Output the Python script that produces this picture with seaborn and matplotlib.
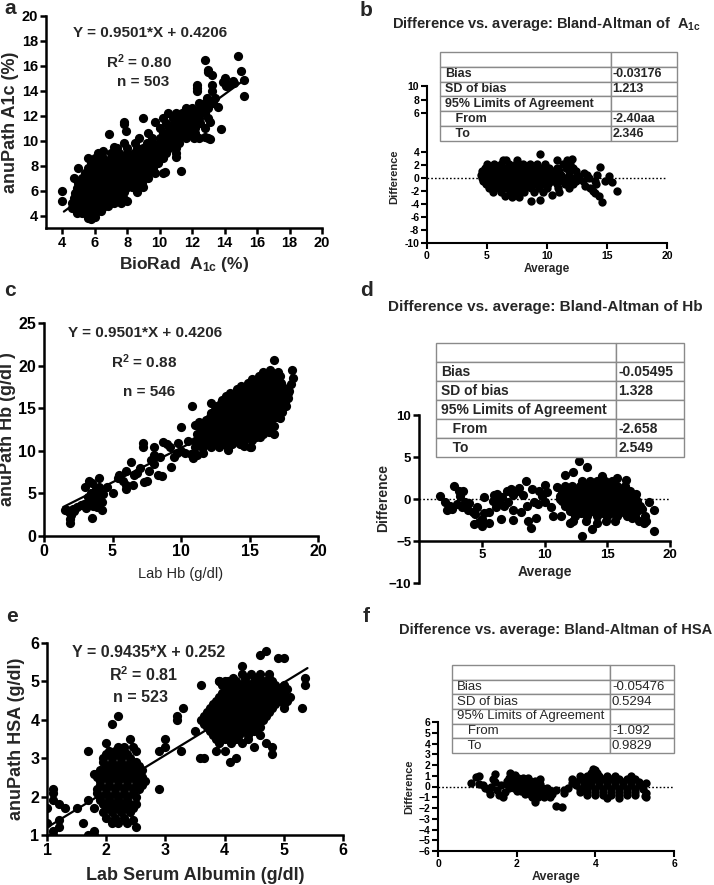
import matplotlib
matplotlib.use('Agg')
import matplotlib.pyplot as plt
import seaborn as sns
import pandas as pd

# ---------------- data ----------------
# (a) anuPath vs BioRad A1c
a_pts = [
    (4.0, 6.0), (4.0, 5.2), (4.7, 7.0), (5.0, 7.8),
    (5.6, 3.8), (5.8, 3.7), (6.0, 3.9),
    (4.9, 4.2), (5.2, 4.2), (5.5, 4.1), (5.8, 4.2), (6.1, 4.3), (6.4, 4.4),
    (4.6, 4.6), (5.0, 4.6), (5.3, 4.6), (5.6, 4.6), (5.9, 4.6), (6.2, 4.7), (6.5, 4.7), (6.8, 4.8),
    (4.6, 5.0), (4.9, 5.0), (5.2, 5.0), (5.5, 5.0), (5.8, 5.0), (6.1, 5.0), (6.4, 5.0), (6.7, 5.1), (7.0, 5.1), (7.6, 5.0),
    (4.7, 5.4), (5.0, 5.4), (5.3, 5.4), (5.6, 5.4), (5.9, 5.4), (6.2, 5.4), (6.5, 5.4), (6.8, 5.4), (7.1, 5.4), (7.4, 5.5), (7.8, 5.3),
    (4.8, 5.8), (5.1, 5.8), (5.4, 5.8), (5.7, 5.8), (6.0, 5.8), (6.3, 5.8), (6.6, 5.8), (6.9, 5.8), (7.2, 5.8), (7.5, 5.8), (7.8, 5.9),
    (4.9, 6.2), (5.2, 6.2), (5.5, 6.2), (5.8, 6.2), (6.1, 6.2), (6.4, 6.2), (6.7, 6.2), (7.0, 6.2), (7.3, 6.2), (7.6, 6.2), (7.9, 6.2), (8.3, 6.3),
    (5.0, 6.6), (5.3, 6.6), (5.6, 6.6), (5.9, 6.6), (6.2, 6.6), (6.5, 6.6), (6.8, 6.6), (7.1, 6.6), (7.4, 6.6), (7.7, 6.6), (8.0, 6.6), (8.4, 6.6), (8.9, 6.6),
    (5.2, 7.0), (5.5, 7.0), (5.8, 7.0), (6.1, 7.0), (6.4, 7.0), (6.7, 7.0), (7.0, 7.0), (7.3, 7.0), (7.6, 7.0), (7.9, 7.0), (8.2, 7.0), (8.6, 7.0), (9.0, 7.0),
    (5.4, 7.4), (5.7, 7.4), (6.0, 7.4), (6.3, 7.4), (6.6, 7.4), (6.9, 7.4), (7.2, 7.4), (7.5, 7.4), (7.8, 7.4), (8.1, 7.4), (8.5, 7.4), (8.9, 7.4), (9.3, 7.4), (9.7, 7.4),
    (5.6, 7.8), (5.9, 7.8), (6.2, 7.8), (6.5, 7.8), (6.8, 7.8), (7.1, 7.8), (7.4, 7.8), (7.7, 7.8), (8.0, 7.8), (8.4, 7.8), (8.8, 7.8), (9.2, 7.8), (9.6, 7.8),
    (5.8, 8.2), (6.1, 8.2), (6.4, 8.2), (6.8, 8.2), (7.2, 8.2), (7.6, 8.2), (8.0, 8.2), (8.3, 8.2), (8.7, 8.2), (9.1, 8.2), (9.5, 8.2), (9.9, 8.2),
    (5.6, 8.6), (6.0, 8.6), (6.5, 8.6), (7.0, 8.6), (7.4, 8.6), (7.8, 8.6), (8.2, 8.6), (8.6, 8.6), (9.0, 8.6), (9.4, 8.6), (9.8, 8.6), (10.2, 8.6),
    (6.2, 9.0), (7.0, 9.0), (7.5, 9.0), (8.0, 9.0), (8.4, 9.0), (8.8, 9.0), (9.2, 9.0), (9.6, 9.0), (10.0, 9.0), (10.4, 9.0),
    (7.4, 9.4), (8.0, 9.4), (8.6, 9.4), (9.0, 9.4), (9.4, 9.4), (9.8, 9.4), (10.2, 9.4), (10.6, 9.4), (11.0, 9.4),
    (7.8, 9.8), (8.5, 9.8), (9.2, 9.8), (9.6, 9.8), (10.0, 9.8), (10.4, 9.8), (10.8, 9.8), (11.2, 9.8),
    (8.7, 10.2), (9.5, 10.2), (10.0, 10.2), (10.4, 10.2), (10.8, 10.2), (11.2, 10.2), (11.6, 10.2), (12.1, 10.2), (12.4, 10.2),
    (9.3, 10.6), (10.2, 10.6), (10.6, 10.6), (11.0, 10.6), (11.4, 10.6), (11.8, 10.6), (12.2, 10.6),
    (10.0, 11.0), (10.6, 11.0), (11.0, 11.0), (11.4, 11.0), (11.8, 11.0), (12.2, 11.0), (12.8, 11.0),
    (10.4, 11.4), (10.9, 11.4), (11.3, 11.4), (11.7, 11.4), (12.1, 11.4), (12.5, 11.4), (13.1, 11.5),
    (9.0, 11.8), (10.2, 11.8), (10.8, 11.8), (11.2, 11.8), (11.6, 11.8), (12.0, 11.8), (12.4, 11.8), (13.0, 11.8),
    (10.5, 12.2), (11.0, 12.2), (11.4, 12.2), (11.8, 12.2), (12.3, 12.2), (12.8, 12.2),
    (11.6, 12.6), (12.0, 12.6), (12.5, 12.6), (13.0, 12.6), (13.6, 12.7),
    (12.4, 13.0), (12.8, 13.0), (13.3, 13.0), (12.9, 13.4), (13.4, 13.4),
    (6.9, 10.5), (7.8, 11.3), (7.8, 11.5), (7.9, 10.8), (9.7, 11.5), (7.2, 9.5), (6.5, 9.2),
    (10.2, 7.4), (10.3, 7.5), (11.0, 9.0), (11.0, 8.7), (11.3, 7.6),
    (12.3, 14.5), (12.3, 14.2), (12.3, 14.0), (12.8, 16.5), (13.0, 15.7), (13.0, 15.5),
    (13.2, 15.3), (13.2, 14.5), (13.2, 14.0), (12.8, 10.3), (13.1, 10.1), (13.0, 10.2),
    (13.8, 10.9), (14.0, 15.0), (13.9, 14.7), (14.1, 14.4), (14.3, 14.5), (14.5, 14.8),
    (14.6, 14.6), (14.8, 16.8), (15.0, 15.6), (15.2, 14.9), (15.2, 13.6),
    (7.2, 5.0), (8.0, 5.2), (8.6, 5.9), (8.8, 6.4), (9.0, 6.3), (9.3, 7.0), (8.9, 8.0),
]
a_slope, a_icpt = 0.9501, 0.4206
a_fit_x = [4.1, 15.1]

# (b) Bland-Altman A1c: average, difference
b_pts = [
    (6.3, 2.8), (6.6, 2.8), (7.5, 2.8), (10.8, 2.8), (11.7, 2.8), (12.1, 2.9), (9.4, 3.7),
    (5.0, 2.2), (5.6, 2.2), (6.2, 2.2), (6.8, 2.2), (7.4, 2.2), (8.0, 2.2), (8.6, 2.2), (9.2, 2.2), (9.8, 2.2), (11.3, 2.2), (11.9, 2.2),
    (4.8, 1.6), (5.2, 1.6), (5.6, 1.6), (6.0, 1.6), (6.4, 1.6), (6.8, 1.6), (7.2, 1.6), (7.6, 1.6), (8.0, 1.6), (8.4, 1.6), (8.8, 1.6), (9.6, 1.6), (10.2, 1.6), (10.8, 1.6), (11.6, 1.6), (12.2, 1.6), (14.4, 1.7),
    (4.6, 1.0), (5.0, 1.0), (5.4, 1.0), (5.8, 1.0), (6.2, 1.0), (6.6, 1.0), (7.0, 1.0), (7.4, 1.0), (7.8, 1.0), (8.2, 1.0), (8.6, 1.0), (9.0, 1.0), (9.4, 1.0), (9.8, 1.0), (10.4, 1.0), (11.0, 1.0), (11.8, 1.0), (12.4, 1.0), (13.1, 0.8),
    (4.5, 0.5), (4.9, 0.5), (5.3, 0.5), (5.7, 0.5), (6.1, 0.5), (6.5, 0.5), (6.9, 0.5), (7.3, 0.5), (7.7, 0.5), (8.1, 0.5), (8.5, 0.5), (9.0, 0.5), (9.5, 0.5), (10.0, 0.5), (10.6, 0.5), (11.2, 0.5), (11.8, 0.5), (12.5, 0.5), (13.3, 0.5), (14.2, 0.4), (15.2, 0.3),
    (4.6, 0.0), (5.0, 0.0), (5.4, 0.0), (5.8, 0.0), (6.2, 0.0), (6.6, 0.0), (7.0, 0.0), (7.4, 0.0), (7.8, 0.0), (8.2, 0.0), (8.6, 0.0), (9.1, 0.0), (9.6, 0.0), (10.2, 0.0), (10.8, 0.0), (11.4, 0.0), (12.0, 0.0), (12.7, 0.0), (13.5, 0.0),
    (4.7, -0.5), (5.1, -0.5), (5.5, -0.5), (5.9, -0.5), (6.3, -0.5), (6.7, -0.5), (7.1, -0.5), (7.5, -0.5), (7.9, -0.5), (8.3, -0.5), (8.8, -0.5), (9.3, -0.5), (9.8, -0.5), (10.4, -0.5), (11.0, -0.5), (11.7, -0.5), (12.4, -0.5), (13.0, -0.5), (14.0, -0.4), (14.8, -0.5),
    (4.9, -1.0), (5.3, -1.0), (5.7, -1.0), (6.1, -1.0), (6.5, -1.0), (6.9, -1.0), (7.3, -1.0), (7.7, -1.0), (8.1, -1.0), (8.5, -1.0), (9.0, -1.0), (9.5, -1.0), (10.1, -1.0), (10.8, -1.0), (11.5, -1.0), (12.2, -1.0), (13.2, -1.2), (14.1, -1.0), (15.4, -0.6),
    (5.2, -1.6), (5.7, -1.6), (6.2, -1.6), (6.7, -1.6), (7.2, -1.6), (7.7, -1.6), (8.2, -1.6), (8.7, -1.6), (9.3, -1.6), (10.0, -1.6), (10.9, -1.6), (11.8, -1.6), (13.6, -1.6),
    (5.5, -2.2), (6.2, -2.2), (6.9, -2.2), (7.5, -2.2), (8.1, -2.2), (8.9, -2.2), (9.7, -2.2), (11.0, -2.2), (13.8, -2.0), (14.0, -2.3),
    (6.5, -2.8), (7.1, -2.9), (7.7, -2.9), (10.4, -2.6), (14.3, -2.8),
    (8.7, -3.5), (9.4, -3.4), (14.6, -3.7), (15.8, -2.0),
]

# (c) anuPath Hb vs Lab Hb
c_pts = [
    (1.5, 3.0), (1.8, 2.8), (1.9, 1.5), (1.9, 2.0), (2.0, 2.5), (2.1, 3.2), (2.4, 3.4), (2.2, 2.9), (1.7, 3.1),
    (3.0, 5.8), (3.3, 6.5), (3.5, 6.2), (3.4, 5.0), (3.5, 4.5), (3.6, 4.0), (3.6, 3.5), (3.5, 2.1), (3.8, 5.5),
    (4.0, 6.8), (3.9, 4.2), (4.2, 3.0), (4.2, 4.0), (4.0, 5.8), (3.2, 3.9), (2.9, 3.7), (3.2, 4.6), (3.7, 4.8),
    (3.1, 3.3), (3.9, 3.4), (4.3, 4.9), (4.1, 5.2), (2.7, 3.6), (3.4, 4.3),
    (5.0, 5.1), (5.5, 7.2), (5.4, 6.8), (6.0, 7.6), (6.0, 6.0), (6.0, 5.5), (6.35, 8.7), (6.5, 6.0), (7.0, 8.0),
    (7.2, 10.5), (7.2, 10.9), (7.3, 6.3), (7.5, 6.5), (7.7, 7.6), (8.0, 9.5), (8.05, 10.4), (8.0, 8.5), (8.3, 7.2),
    (8.6, 7.0), (8.7, 11.05), (9.0, 10.8), (9.3, 8.1), (9.5, 9.3), (10.0, 12.8), (10.0, 10.0), (10.3, 9.8),
    (10.8, 15.2), (6.8, 7.4), (7.8, 8.9), (8.5, 9.3), (9.2, 10.5), (9.7, 9.8), (4.6, 5.7), (5.8, 6.4), (6.6, 7.2),
    (9.8, 10.9), (10.5, 11.2), (10.7, 9.6),
    (11.0, 10.4), (11.6, 10.4), (12.2, 10.4), (12.8, 10.4), (13.4, 10.4), (14.6, 10.6), (15.1, 10.5),
    (11.3, 10.8), (11.9, 10.8), (12.5, 10.8), (13.1, 10.8), (13.7, 10.8), (14.3, 10.8),
    (11.0, 11.2), (11.6, 11.2), (12.2, 11.2), (12.8, 11.2), (13.4, 11.2), (14.0, 11.2), (14.6, 11.2), (15.2, 11.3), (15.8, 11.6),
    (11.3, 11.6), (11.9, 11.6), (12.5, 11.6), (13.1, 11.6), (13.7, 11.6), (14.3, 11.6), (14.9, 11.6), (15.5, 11.6),
    (11.2, 12.0), (11.8, 12.0), (12.4, 12.0), (13.0, 12.0), (13.6, 12.0), (14.2, 12.0), (14.8, 12.0), (15.4, 12.0), (16.0, 12.0), (16.4, 12.2),
    (11.5, 12.4), (12.1, 12.4), (12.7, 12.4), (13.3, 12.4), (13.9, 12.4), (14.5, 12.4), (15.1, 12.4), (15.7, 12.4), (16.3, 12.4),
    (11.4, 12.8), (12.0, 12.8), (12.6, 12.8), (13.2, 12.8), (13.8, 12.8), (14.4, 12.8), (15.0, 12.8), (15.6, 12.8), (16.2, 12.8), (16.8, 12.9),
    (11.7, 13.2), (12.3, 13.2), (12.9, 13.2), (13.5, 13.2), (14.1, 13.2), (14.7, 13.2), (15.3, 13.2), (15.9, 13.2), (16.5, 13.2),
    (11.8, 13.6), (12.4, 13.6), (13.0, 13.6), (13.6, 13.6), (14.2, 13.6), (14.8, 13.6), (15.4, 13.6), (16.0, 13.6), (16.6, 13.6), (17.2, 13.8),
    (12.1, 14.0), (12.7, 14.0), (13.3, 14.0), (13.9, 14.0), (14.5, 14.0), (15.1, 14.0), (15.7, 14.0), (16.3, 14.0), (16.9, 14.0),
    (12.2, 14.4), (12.8, 14.4), (13.4, 14.4), (14.0, 14.4), (14.6, 14.4), (15.2, 14.4), (15.8, 14.4), (16.4, 14.4), (17.0, 14.4), (17.4, 14.6),
    (12.5, 14.8), (13.1, 14.8), (13.7, 14.8), (14.3, 14.8), (14.9, 14.8), (15.5, 14.8), (16.1, 14.8), (16.7, 14.8), (17.3, 14.8),
    (12.6, 15.2), (13.2, 15.2), (13.8, 15.2), (14.4, 15.2), (15.0, 15.2), (15.6, 15.2), (16.2, 15.2), (16.8, 15.2), (17.4, 15.3),
    (12.9, 15.6), (13.5, 15.6), (14.1, 15.6), (14.7, 15.6), (15.3, 15.6), (15.9, 15.6), (16.5, 15.6), (17.1, 15.6), (17.6, 15.6),
    (13.0, 16.0), (13.6, 16.0), (14.2, 16.0), (14.8, 16.0), (15.4, 16.0), (16.0, 16.0), (16.6, 16.0), (17.2, 16.0), (17.8, 16.2),
    (13.3, 16.4), (13.9, 16.4), (14.5, 16.4), (15.1, 16.4), (15.7, 16.4), (16.3, 16.4), (16.9, 16.4), (17.5, 16.4),
    (13.6, 16.8), (14.2, 16.8), (14.8, 16.8), (15.4, 16.8), (16.0, 16.8), (16.6, 16.8), (17.2, 16.8), (17.8, 16.8),
    (14.1, 17.2), (14.7, 17.2), (15.3, 17.2), (15.9, 17.2), (16.5, 17.2), (17.1, 17.2), (17.7, 17.2),
    (14.4, 17.6), (15.0, 17.6), (15.6, 17.6), (16.2, 17.6), (16.8, 17.6), (17.4, 17.6),
    (14.9, 18.0), (15.5, 18.0), (16.1, 18.0), (16.7, 18.0), (17.3, 18.0),
    (15.2, 18.4), (15.8, 18.4), (16.4, 18.4), (17.0, 18.4), (15.7, 18.8), (16.3, 18.8), (16.9, 18.8),
    (16.0, 19.2), (16.6, 19.2), (17.1, 19.2),
    (12.2, 15.6), (13.4, 10.1), (15.05, 10.5), (16.8, 20.6), (18.1, 19.45), (18.2, 18.5), (17.7, 15.2),
    (17.0, 17.9), (17.9, 17.0), (16.5, 19.5), (17.2, 18.8), (18.0, 17.8), (11.0, 13.0), (11.2, 9.5),
    (11.5, 10.5), (10.9, 9.2), (11.6, 9.8), (11.3, 13.4), (12.5, 14.8), (16.8, 12.0), (14.2, 11.0),
]
c_fit_x = [1.4, 18.0]
c_fit_y = [3.4, 16.8]

# (d) Bland-Altman Hb
d_pts = [
    (1.7, 0.3), (2.1, -0.3), (2.5, -0.8), (2.2, -1.3), (2.8, 1.5), (3.2, 1.0), (3.5, 0.9), (3.3, 0.4),
    (3.7, -0.4), (4.0, -0.5), (4.3, -1.5), (4.5, -1.8), (4.4, -3.0), (4.8, -2.7), (5.0, -3.2), (5.2, -1.7),
    (5.0, -2.4), (5.6, -2.8), (5.6, -1.5), (5.2, 0.2), (6.0, 0.5), (6.2, 0.6), (6.4, -0.3), (6.5, -2.4),
    (6.8, -0.8), (7.0, 1.0), (7.3, 1.2), (7.5, 0.5), (7.5, -1.3), (7.5, -2.5), (8.0, 1.3), (8.3, 0.5),
    (8.5, 2.1), (8.6, -0.8), (8.7, -2.6), (8.9, -3.4), (9.0, 1.2), (9.2, -0.4), (9.3, -2.3), (9.8, 0.3),
    (10.05, 1.7), (10.2, 0.8), (10.5, -1.0), (10.7, -2.0), (11.0, 1.4), (11.2, 0.0), (11.6, 2.9),
    (3.0, -0.6), (3.9, -1.3), (4.6, -1.0), (5.9, -0.2), (6.6, 0.2), (7.8, 0.9), (8.1, -1.6), (9.5, -0.6),
    (10.0, -0.3), (2.6, -1.2), (3.4, -0.9), (6.1, -1.0), (7.1, -0.4), (9.6, 0.9),
    (13.0, 2.2), (13.6, 2.2), (14.2, 2.2), (14.8, 2.2), (15.4, 2.2),
    (11.6, 1.6), (12.2, 1.6), (12.8, 1.6), (13.4, 1.6), (14.0, 1.6), (14.6, 1.6), (15.2, 1.6), (15.8, 1.6), (16.4, 1.6),
    (12.3, 1.3), (12.9, 1.3), (13.5, 1.3), (14.1, 1.3), (14.7, 1.3), (15.3, 1.3), (15.9, 1.3),
    (11.4, 1.0), (12.0, 1.0), (12.6, 1.0), (13.2, 1.0), (13.8, 1.0), (14.4, 1.0), (15.0, 1.0), (15.6, 1.0), (16.2, 1.0), (16.8, 1.0),
    (11.7, 0.7), (12.3, 0.7), (12.9, 0.7), (13.5, 0.7), (14.1, 0.7), (14.7, 0.7), (15.3, 0.7), (15.9, 0.7), (16.5, 0.7),
    (11.2, 0.4), (11.8, 0.4), (12.4, 0.4), (13.0, 0.4), (13.6, 0.4), (14.2, 0.4), (14.8, 0.4), (15.4, 0.4), (16.0, 0.4), (16.6, 0.4), (17.2, 0.4),
    (11.7, 0.1), (12.3, 0.1), (12.9, 0.1), (13.5, 0.1), (14.1, 0.1), (14.7, 0.1), (15.3, 0.1), (15.9, 0.1), (16.5, 0.1), (17.1, 0.1),
    (11.4, -0.2), (12.0, -0.2), (12.6, -0.2), (13.2, -0.2), (13.8, -0.2), (14.4, -0.2), (15.0, -0.2), (15.6, -0.2), (16.2, -0.2), (16.8, -0.2), (17.4, -0.2),
    (11.7, -0.5), (12.3, -0.5), (12.9, -0.5), (13.5, -0.5), (14.1, -0.5), (14.7, -0.5), (15.3, -0.5), (15.9, -0.5), (16.5, -0.5), (17.1, -0.5),
    (11.6, -0.8), (12.2, -0.8), (12.8, -0.8), (13.4, -0.8), (14.0, -0.8), (14.6, -0.8), (15.2, -0.8), (15.8, -0.8), (16.4, -0.8), (17.0, -0.8), (17.6, -0.8),
    (12.3, -1.1), (12.9, -1.1), (13.5, -1.1), (14.1, -1.1), (14.7, -1.1), (15.3, -1.1), (15.9, -1.1), (16.5, -1.1), (17.1, -1.1),
    (12.0, -1.4), (12.6, -1.4), (13.2, -1.4), (13.8, -1.4), (14.4, -1.4), (15.0, -1.4), (15.6, -1.4), (16.2, -1.4), (16.8, -1.4), (17.4, -1.4),
    (12.9, -1.7), (13.5, -1.7), (14.1, -1.7), (14.7, -1.7), (15.3, -1.7), (15.9, -1.7), (16.5, -1.7),
    (11.3, -2.0), (12.4, -2.0), (13.4, -2.0), (14.2, -2.0), (15.0, -2.0), (15.8, -2.0), (16.6, -2.0), (17.2, -2.0),
    (12.3, -2.6), (13.3, -2.6), (14.9, -2.6), (15.6, -2.6),
    (12.75, 4.5), (13.4, 3.85), (12.96, -4.4), (13.75, -3.6), (14.2, -2.9), (18.7, -3.8), (18.7, -1.3),
    (18.3, -0.3), (17.5, -2.6), (17.9, -2.9), (18.1, -2.6), (17.3, 0.6), (16.5, 2.3), (12.0, -2.8),
    (17.8, -1.2), (18.0, -2.0), (17.0, -2.3), (12.3, 3.2), (14.6, 2.7), (15.8, 2.5),
]

# (e) anuPath HSA vs Lab serum albumin
e_pts = [
    (1.0, 1.7), (1.0, 1.3), (1.1, 2.2), (1.1, 2.1), (1.1, 1.9), (1.2, 1.8), (1.3, 1.7), (1.1, 1.1), (1.1, 1.0),
    (1.2, 1.4), (1.2, 1.2), (1.5, 1.7), (1.7, 1.9), (1.6, 1.3), (1.7, 1.0), (1.8, 1.1), (1.8, 1.0), (1.7, 3.2),
    (1.8, 2.6), (1.8, 1.7), (2.1, 3.9), (2.2, 4.1), (2.4, 3.5), (2.9, 2.2), (2.9, 3.2), (3.0, 3.3), (3.0, 3.5),
    (3.27, 3.2), (3.2, 4.0), (3.2, 4.1), (3.29, 4.3), (3.5, 3.7), (3.6, 4.9), (3.9, 5.0), (4.0, 5.0),
    (3.58, 3.0), (3.65, 3.0), (4.09, 2.9), (4.2, 3.0), (4.5, 3.3), (4.7, 3.4), (4.8, 3.3), (4.8, 3.1),
    (4.7, 5.8), (4.6, 5.7), (4.9, 5.6), (5.0, 5.6), (5.36, 5.1), (5.36, 4.9), (5.3, 4.3), (5.0, 4.3), (4.3, 5.4),
    (2.6, 2.7), (2.6, 2.5), (2.6, 2.3), (2.0, 3.4), (2.45, 1.4),
    (2.2, 3.3), (2.3, 3.3), (2.45, 3.3),
    (2.05, 3.2), (2.15, 3.2), (2.3, 3.2), (2.5, 3.2),
    (2.0, 3.1), (2.2, 3.1), (2.35, 3.1),
    (1.95, 3.0), (2.1, 3.0), (2.25, 3.0), (2.4, 3.0),
    (1.95, 2.9), (2.1, 2.9), (2.25, 2.9), (2.4, 2.9), (2.5, 2.9),
    (2.0, 2.8), (2.15, 2.8), (2.3, 2.8), (2.45, 2.8), (2.55, 2.8),
    (1.9, 2.7), (2.05, 2.7), (2.2, 2.7), (2.35, 2.7), (2.5, 2.7),
    (1.85, 2.6), (1.95, 2.6), (2.1, 2.6), (2.25, 2.6), (2.4, 2.6), (2.55, 2.6),
    (1.85, 2.5), (2.0, 2.5), (2.15, 2.5), (2.3, 2.5), (2.45, 2.5),
    (1.9, 2.4), (2.05, 2.4), (2.2, 2.4), (2.35, 2.4), (2.5, 2.4), (2.65, 2.4),
    (1.9, 2.3), (2.05, 2.3), (2.2, 2.3), (2.35, 2.3), (2.5, 2.3),
    (1.85, 2.2), (2.0, 2.2), (2.15, 2.2), (2.3, 2.2), (2.45, 2.2), (2.55, 2.2),
    (1.85, 2.1), (2.0, 2.1), (2.15, 2.1), (2.3, 2.1), (2.45, 2.1),
    (1.9, 2.0), (2.05, 2.0), (2.2, 2.0), (2.35, 2.0), (2.5, 2.0),
    (1.9, 1.9), (2.05, 1.9), (2.2, 1.9), (2.35, 1.9),
    (1.95, 1.8), (2.1, 1.8), (2.25, 1.8), (2.4, 1.8), (2.5, 1.8),
    (2.0, 1.7), (2.15, 1.7), (2.3, 1.7), (2.45, 1.7),
    (1.95, 1.6), (2.1, 1.6), (2.25, 1.6), (2.4, 1.6),
    (2.0, 1.45), (2.15, 1.45), (2.3, 1.45), (2.1, 1.3), (2.2, 1.3), (2.35, 1.3), (2.5, 1.2),
    (4.3, 5.2), (4.45, 5.2), (4.6, 5.2), (4.75, 5.2),
    (4.15, 5.1), (4.35, 5.1), (4.55, 5.1), (4.75, 5.1),
    (3.9, 5.0), (4.05, 5.0), (4.2, 5.0), (4.35, 5.0), (4.5, 5.0), (4.65, 5.0), (4.8, 5.0),
    (3.95, 4.9), (4.1, 4.9), (4.25, 4.9), (4.4, 4.9), (4.55, 4.9), (4.7, 4.9), (4.85, 4.9), (5.0, 4.9),
    (4.0, 4.8), (4.15, 4.8), (4.3, 4.8), (4.45, 4.8), (4.6, 4.8), (4.75, 4.8), (4.9, 4.8), (5.05, 4.8),
    (3.95, 4.7), (4.1, 4.7), (4.25, 4.7), (4.4, 4.7), (4.55, 4.7), (4.7, 4.7), (4.85, 4.7), (5.0, 4.7),
    (3.9, 4.6), (4.05, 4.6), (4.2, 4.6), (4.35, 4.6), (4.5, 4.6), (4.65, 4.6), (4.8, 4.6), (4.95, 4.6), (5.1, 4.6),
    (3.85, 4.5), (4.0, 4.5), (4.15, 4.5), (4.3, 4.5), (4.45, 4.5), (4.6, 4.5), (4.75, 4.5), (4.9, 4.5), (5.05, 4.5),
    (3.8, 4.4), (3.95, 4.4), (4.1, 4.4), (4.25, 4.4), (4.4, 4.4), (4.55, 4.4), (4.7, 4.4), (4.85, 4.4), (5.0, 4.4),
    (3.75, 4.3), (3.9, 4.3), (4.05, 4.3), (4.2, 4.3), (4.35, 4.3), (4.5, 4.3), (4.65, 4.3), (4.8, 4.3),
    (3.7, 4.2), (3.85, 4.2), (4.0, 4.2), (4.15, 4.2), (4.3, 4.2), (4.45, 4.2), (4.6, 4.2), (4.75, 4.2),
    (3.65, 4.1), (3.8, 4.1), (3.95, 4.1), (4.1, 4.1), (4.25, 4.1), (4.4, 4.1), (4.55, 4.1), (4.7, 4.1),
    (3.6, 4.0), (3.75, 4.0), (3.9, 4.0), (4.05, 4.0), (4.2, 4.0), (4.35, 4.0), (4.5, 4.0), (4.65, 4.0),
    (3.65, 3.9), (3.8, 3.9), (3.95, 3.9), (4.1, 3.9), (4.25, 3.9), (4.4, 3.9), (4.55, 3.9),
    (3.7, 3.8), (3.85, 3.8), (4.0, 3.8), (4.15, 3.8), (4.3, 3.8), (4.45, 3.8), (4.6, 3.8),
    (3.75, 3.7), (3.9, 3.7), (4.05, 3.7), (4.2, 3.7), (4.35, 3.7), (4.5, 3.7),
    (3.8, 3.6), (3.95, 3.6), (4.1, 3.6), (4.25, 3.6), (4.4, 3.6), (4.6, 3.6),
    (3.85, 3.5), (4.0, 3.5), (4.2, 3.5), (4.4, 3.5),
    (3.9, 3.4), (4.1, 3.4), (4.3, 3.4), (3.85, 3.2), (4.0, 3.2),
]
e_slope, e_icpt = 0.9435, 0.252
e_fit_x = [1.0, 5.4]

# (f) Bland-Altman HSA
f_pts = [
    (0.85, 0.3), (0.97, 0.92), (1.05, 0.95), (1.2, -0.1), (1.3, -0.3), (1.4, 0.74), (1.44, 1.14), (1.45, 0.4),
    (1.5, -0.3), (1.31, -0.7), (1.55, -0.8), (1.65, -1.0), (1.6, 0.1), (1.7, -0.5), (1.82, 1.3), (1.05, 0.2),
    (1.15, 0.1), (1.35, 0.0),
    (1.85, 1.1), (1.97, 1.1),
    (1.8, 0.8), (1.92, 0.8), (2.04, 0.8), (2.16, 0.8), (2.3, 0.8),
    (1.75, 0.5), (1.87, 0.5), (1.99, 0.5), (2.11, 0.5), (2.23, 0.5), (2.35, 0.5), (2.47, 0.5), (2.6, 0.7),
    (1.75, 0.2), (1.87, 0.2), (1.99, 0.2), (2.11, 0.2), (2.23, 0.2), (2.35, 0.2), (2.47, 0.2), (2.59, 0.2),
    (1.8, -0.1), (1.92, -0.1), (2.04, -0.1), (2.16, -0.1), (2.28, -0.1), (2.4, -0.1), (2.52, -0.1), (2.64, -0.1), (2.76, -0.1),
    (2.0, -0.4), (2.12, -0.4), (2.24, -0.4), (2.36, -0.4), (2.48, -0.4), (2.6, -0.4), (2.72, -0.4), (2.84, -0.4),
    (2.2, -0.7), (2.34, -0.7), (2.48, -0.7), (2.62, -0.7), (2.76, -0.7), (2.9, -0.7),
    (2.4, -1.0), (2.55, -1.0), (2.7, -1.0), (2.85, -1.0),
    (2.46, -1.48), (3.0, -1.8), (3.15, -1.95), (2.9, -0.4), (3.0, -0.3), (3.2, -0.3), (3.2, -0.6),
    (3.4, 0.3), (3.3, -0.1),
    (3.9, 1.3), (4.05, 1.3), (3.94, 1.66), (4.0, 1.5),
    (3.6, 1.0), (3.8, 1.0), (3.95, 1.0), (4.1, 1.0), (4.3, 1.0), (4.5, 1.0), (4.9, 1.0),
    (3.4, 0.7), (3.6, 0.7), (3.8, 0.7), (4.0, 0.7), (4.2, 0.7), (4.4, 0.7), (4.6, 0.7), (4.8, 0.7), (5.0, 0.7),
    (3.5, 0.4), (3.7, 0.4), (3.9, 0.4), (4.1, 0.4), (4.3, 0.4), (4.5, 0.4), (4.7, 0.4), (4.9, 0.4), (5.1, 0.4), (5.3, 0.3),
    (3.5, 0.1), (3.7, 0.1), (3.9, 0.1), (4.1, 0.1), (4.3, 0.1), (4.5, 0.1), (4.7, 0.1), (4.9, 0.1), (5.1, 0.1),
    (3.6, -0.2), (3.8, -0.2), (4.0, -0.2), (4.2, -0.2), (4.4, -0.2), (4.6, -0.2), (4.8, -0.2), (5.0, -0.2), (5.2, -0.2),
    (3.6, -0.5), (3.8, -0.5), (4.0, -0.5), (4.2, -0.5), (4.4, -0.5), (4.6, -0.5), (4.8, -0.5), (5.0, -0.5), (5.3, -0.6),
    (3.8, -0.8), (4.0, -0.8), (4.2, -0.8), (4.4, -0.8), (4.6, -0.8), (4.8, -0.8), (5.0, -0.8), (5.25, -0.9),
    (4.3, -1.1), (4.6, -1.1), (5.3, -1.0),
]

# table contents
b_table = [["", ""], ["Bias", "-0.03176"], ["SD of bias", "1.213"],
           ["95% Limits of Agreement", ""], ["   From", "-2.40aa"], ["   To", "2.346"]]
d_table = [["", ""], ["Bias", "-0.05495"], ["SD of bias", "1.328"],
           ["95% Limits of Agreement", ""], ["   From", "-2.658"], ["   To", "2.549"]]
f_table = [["", ""], ["Bias", "-0.05476"], ["SD of bias", "0.5294"],
           ["95% Limits of Agreement", ""], ["   From", "-1.092"], ["   To", "0.9829"]]

# ---------------- styling ----------------
sns.set_style('ticks')
plt.rcParams['font.family'] = ['Liberation Sans', 'DejaVu Sans']
plt.rcParams['font.weight'] = 'bold'
plt.rcParams['axes.labelweight'] = 'bold'
plt.rcParams['mathtext.fontset'] = 'custom'
plt.rcParams['mathtext.rm'] = 'Liberation Sans:bold'
plt.rcParams['mathtext.bf'] = 'Liberation Sans:bold'
plt.rcParams['mathtext.it'] = 'Liberation Sans:bold'

W, H = 714, 885
fig = plt.figure(figsize=(W / 100, H / 100), dpi=100)


def box(x0, y0, x1, y1):
    # pixel box (top-left origin) -> figure fraction
    return [x0 / W, 1 - y1 / H, (x1 - x0) / W, (y1 - y0) / H]


def style(ax, fs, lw=1.8):
    sns.despine(ax=ax)
    for s in ['left', 'bottom']:
        ax.spines[s].set_linewidth(lw)
        ax.spines[s].set_color('black')
    ax.tick_params(direction='out', length=4, width=lw, labelsize=fs, colors='black', pad=1.5)
    for lab in ax.get_xticklabels() + ax.get_yticklabels():
        lab.set_fontweight('bold')


def scatter(ax, pts, s=44):
    df = pd.DataFrame(pts, columns=['x', 'y'])
    sns.scatterplot(data=df, x='x', y='y', ax=ax, color='black', s=s, linewidth=0, legend=False)


def table(rows, bx, first, fs, bold=True):
    tax = fig.add_axes(box(*bx))
    tax.axis('off')
    tbl = tax.table(cellText=rows, colWidths=[first, 1 - first], bbox=[0, 0, 1, 1], cellLoc='left')
    tbl.auto_set_font_size(False)
    tbl.set_fontsize(fs)
    for _, cell in tbl.get_celld().items():
        cell.set_edgecolor('#8a8a8a')
        cell.set_linewidth(1.0)
        cell.PAD = 0.03
        cell.get_text().set_fontweight('bold' if bold else 'normal')


def letter(ch, x, y):
    fig.text(x / W, 1 - y / H, ch, fontsize=15, fontweight='bold', ha='center', va='center')


def title(txt, x, y, fs):
    fig.text(x / W, 1 - y / H, txt, fontsize=fs, fontweight='bold', ha='center', va='center')


# ---- (a)
ax = fig.add_axes(box(46, 16, 322, 228))
scatter(ax, a_pts)
ax.plot(a_fit_x, [a_slope * v + a_icpt for v in a_fit_x], color='black', lw=1.6)
ax.set_xlim(3, 20)
ax.set_ylim(3, 20)
ax.set_xticks(range(4, 21, 2))
ax.set_yticks(range(4, 21, 2))
style(ax, 10.5)
ax.set_xlabel(r'BioRad  A$_{\mathbf{1c}}$ (%)', fontsize=12.5, labelpad=4)
ax.set_ylabel('anuPath A1c (%)', fontsize=13, labelpad=2)
ax.text(9.4, 18.6, 'Y = 0.9501*X + 0.4206', fontsize=11, ha='center', va='center')
ax.text(8.7, 16.3, r'R$^{2}$ = 0.80', fontsize=11, ha='center', va='center')
ax.text(9.0, 14.7, 'n = 503', fontsize=11, ha='center', va='center')

# ---- (b)
ax = fig.add_axes(box(427, 86, 667, 243))
scatter(ax, b_pts, s=36)
ax.axhline(0, color='black', lw=1.0, ls=(0, (1.2, 1.5)))
ax.set_xlim(0, 20)
ax.set_ylim(-10, 14.15)
ax.set_xticks([0, 5, 10, 15, 20])
ax.set_yticks([-10, -8, -6, -4, -2, 0, 2, 4, 10.0, 12.05, 14.15])
ax.set_yticklabels(['-10', '-8', '-6', '-4', '-2', '0', '2', '4', '6', '8', '10'])
style(ax, 7.5, lw=1.5)
ax.set_xlabel('Average', fontsize=8.5, labelpad=2)
ax.set_ylabel('Difference', fontsize=8)
ax.yaxis.set_label_coords(-0.117, 0.42)
table(b_table, (440, 52, 677, 141), 0.72, 9)

# ---- (c)
ax = fig.add_axes(box(44, 323, 318, 536))
scatter(ax, c_pts)
ax.plot(c_fit_x, c_fit_y, color='black', lw=1.6)
ax.set_xlim(0, 20)
ax.set_ylim(0, 25)
ax.set_xticks(range(0, 21, 5))
ax.set_yticks(range(0, 26, 5))
style(ax, 11.5)
ax.set_xlabel('Lab Hb (g/dl)', fontsize=10.5, fontweight='normal', labelpad=6)
ax.set_ylabel('anuPath Hb (g/dl )', fontsize=13, labelpad=2)
ax.text(7.4, 23.8, 'Y = 0.9501*X + 0.4206', fontsize=11, ha='center', va='center')
ax.text(7.3, 20.4, r'R$^{2}$ = 0.88', fontsize=11, ha='center', va='center')
ax.text(7.7, 16.9, 'n = 546', fontsize=11, ha='center', va='center')

# ---- (d)
ax = fig.add_axes(box(419, 415, 670, 583))
scatter(ax, d_pts)
ax.axhline(0, color='black', lw=1.0, ls=(0, (1.2, 1.5)))
ax.set_xlim(0, 20)
ax.set_ylim(-10, 10)
ax.spines['bottom'].set_position(('data', -5))
ax.set_xticks([5, 10, 15, 20])
ax.set_yticks([-10, -5, 0, 5, 10])
style(ax, 9.5)
ax.set_xlabel('Average', fontsize=10, labelpad=3)
ax.set_ylabel('Difference', fontsize=10)
ax.yaxis.set_label_coords(-0.115, 0.506)
table(d_table, (436, 343, 684, 457), 0.726, 10)

# ---- (e)
ax = fig.add_axes(box(47, 643, 343, 835))
scatter(ax, e_pts)
ax.plot(e_fit_x, [e_slope * v + e_icpt for v in e_fit_x], color='black', lw=1.6)
ax.set_xlim(1, 6)
ax.set_ylim(1, 6)
ax.set_xticks(range(1, 7))
ax.set_yticks(range(1, 7))
style(ax, 11.5)
ax.set_xlabel('Lab Serum Albumin (g/dl)', fontsize=13, labelpad=7)
ax.set_ylabel('anuPath HSA (g/dl)', fontsize=13, labelpad=4)
ax.text(2.71, 5.74, 'Y = 0.9435*X + 0.252', fontsize=11.5, ha='center', va='center')
ax.text(2.63, 5.17, r'R$^{2}$ = 0.81', fontsize=11.5, ha='center', va='center')
ax.text(2.58, 4.59, 'n = 523', fontsize=11.5, ha='center', va='center')

# ---- (f)
ax = fig.add_axes(box(438, 722, 674, 851))
scatter(ax, f_pts, s=36)
ax.axhline(0, color='black', lw=1.0, ls=(0, (1.2, 1.5)))
ax.set_xlim(0, 6)
ax.set_ylim(-6, 6)
ax.set_xticks([0, 2, 4, 6])
ax.set_yticks(range(-6, 7))
style(ax, 7.5, lw=1.5)
ax.set_xlabel('Average', fontsize=9, labelpad=2)
ax.set_ylabel('Difference', fontsize=8)
ax.yaxis.set_label_coords(-0.10, 0.5)
table(f_table, (452, 665, 674, 753), 0.712, 9.5, bold=False)

# panel letters and titles
letter('a', 10, 9)
letter('b', 366, 10)
letter('c', 10, 290)
letter('d', 367, 290)
letter('e', 12, 616)
letter('f', 366, 617)
title(r'Difference vs. average: Bland-Altman of  A$_{\mathbf{1c}}$', 547, 24, 10.5)
title('Difference vs. average: Bland-Altman of Hb', 545, 307, 11)
title('Difference vs. average: Bland-Altman of HSA', 556, 630, 10.5)

fig.savefig('out.png', dpi=100)
